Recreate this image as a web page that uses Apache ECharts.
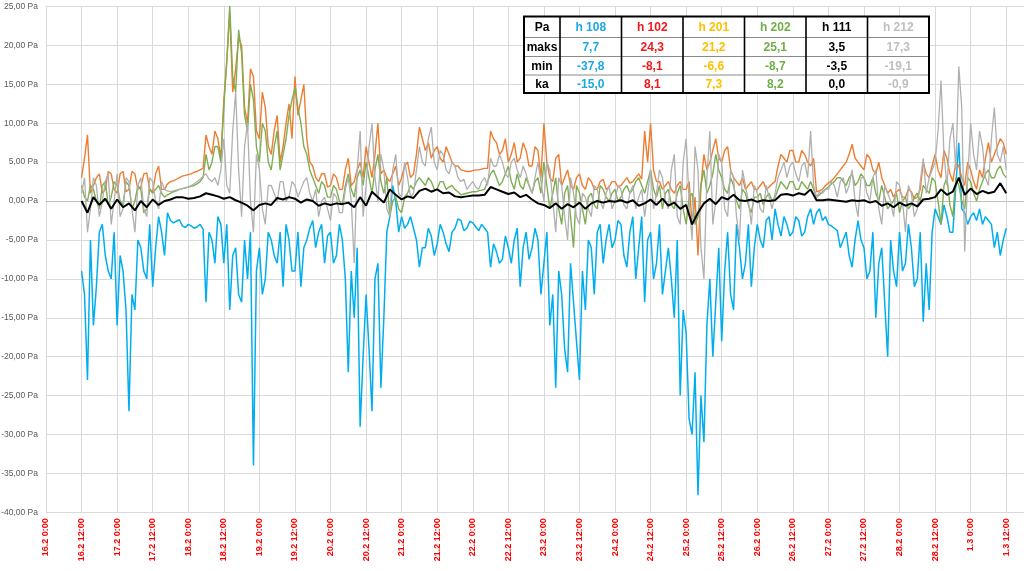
<!DOCTYPE html>
<html>
<head>
<meta charset="utf-8">
<script src="https://cdn.jsdelivr.net/npm/echarts@6/dist/echarts.min.js"></script>
<style>
html,body{margin:0;padding:0;background:#fff;}
#chart{width:1024px;height:571px;}
</style>
</head>
<body>
<div id="chart"></div>
<script>
// ---- x tick labels (every 12 h from 16.2 0:00) ----
const xTickLabels = ['16.2 0:00','16.2 12:00','17.2 0:00','17.2 12:00','18.2 0:00','18.2 12:00',
  '19.2 0:00','19.2 12:00','20.2 0:00','20.2 12:00','21.2 0:00','21.2 12:00','22.2 0:00','22.2 12:00',
  '23.2 0:00','23.2 12:00','24.2 0:00','24.2 12:00','25.2 0:00','25.2 12:00','26.2 0:00','26.2 12:00',
  '27.2 0:00','27.2 12:00','28.2 0:00','28.2 12:00','1.3 0:00','1.3 12:00'];

// sample times: hours after 16.2 0:00, every 2 h from 16.2 12:00 (even readings);
// odd-hour readings sit 1 h after each of them
const hours = [];
for (let h = 12; h <= 324; h += 2) hours.push(h);

// ---- series values (Pa) ----
// even hours (12,14,...,324)
const h108 = [
 -9,-23,-16,-4,-7,-10,  -16,-9,-27,-14,-6,-10,  -11,-2,-7,-2.5,-2.6,-3.2,  -3.0,-3.5,-3.0,-13,-5,-2,
 -8,-14,-6,-13,-10,-34,  -6,-10,-5,-8,-11,-5,  -9,-11,-5,-2.5,-4,-8,  -4,-7,-5,-22,-15,-29,
 -12,-27,-8,-15,-2,0,  -2,-3,-3.5,-8.5,-6,-4.5,  -5.5,-4,-6.5,-3.5,-2.5,-3.5,  -2.8,-3.8,-3.5,-8.5,-6.5,-7.5,
 -6,-5,-11,-4,-6,-5,  -8,-16,-24,-12,-22,-13,  -23,-14,-6,-4,-8,-3,  -5,-3,-8.5,-2,-6,-13,
 -4,-8,-12,-6,-15,-25,  -17,-30,-37.8,-31,-10,-13,  -18,-4,-14,-6,-8,-11,  -3,-6,-2,-1,-4.5,-3,
 -4,-2.5,-4,-1,-1.5,-2.5,  -3,-3.5,-6,-4,-8.5,-2.5,  -6,-9,-15,-6,-20,-9,  -4,-8,-6,-10,-15.5,-14,
 -1,-3,-2,-4,7.5,-1.5,  -2,-2.5,-3,-2.5,-6,-7,  -3.5];
// odd hours (13,15,...,323)
const h108odd = [
 -12,-5,-11,-3,-9,-4,  -7,-14,-12,-5,-9,-3,  -6,-4,-1.5,-2.8,-2.4,-3.4,  -3.2,-3.3,-3.6,-4,-8,-3,
 -3,-7,-12,-5,-4,-9,  -12,-4,-7,-4,-3,-9,  -4,-6,-3.5,-6,-3,-4.5,  -8,-3,-10,-9,-6,-20,
 -19,-10,-24,-4,2,-4,  -3.5,-2,-5,-6,-3.5,-7,  -3,-5.5,-4,-2.3,-3.8,-2.6,  -3.3,-3,-4,-5.5,-8,-4.5,
 -8,-3.5,-6,-7.5,-3.5,-12,  -4,-12,-9,-19,-8,-18,  -9,-5,-12,-3,-5,-6,  -2.5,-7,-4,-10,-2,-5,
 -10,-3,-9,-10,-5,-14,  -28,-22,-25,-16,-20,-6,  -9,-12,-3,-10,-3,-6,  -5,-2.5,-5,-3,-2,-4.5,
 -2,-4.5,-2,-3,-1,-2,  -3.2,-3.8,-5,-7,-5,-5,  -10,-4,-8,-13,-5,-11,  -9,-3,-11,-4,-8,-4,
 -2,-0.5,-4,2,-1,-3,  -1.5,-1,-2,-3,-4,-5];

const h102 = [
 3,8.5,2,3.5,1.5,3.5,  1,3.8,1.5,3.5,1.8,3.6,  1.2,4.5,1.5,2.5,2.8,3.2,  3.4,3.7,4,8.5,6,8,
 13,24.3,17,20,10,16,  8,12,6,11,7,12.5,  16,13,8,4.5,2.5,3.5,  2,3,1.5,5.5,2.5,5,
 7,3,10,4,2.5,4.5,  3,5,3.5,9.5,6.5,5.5,  7,5,6,4.5,4,3.8,  3.9,4,4.2,9,7.5,6.5,
 5,7.5,5.5,6.5,4.5,6.5,  10,3,5.5,2,4,1.5,  3.5,1.5,2.5,1.5,2.8,1.8,  2.5,2,3,2.5,3.5,9,
 10,2.5,1.5,2.5,1,2.5,  1.5,-3,-7,6,5,8,  5,7,3,2,1.5,2.5,  1.5,2.5,1.8,2.5,6,5,
 6.5,5,6,4.5,1.2,1.5,  2.3,3,4,5,7.3,5,  4,5.5,3.5,3,1,0.5,  1.5,0.5,1.2,0.5,5,3,
 6,3,5.5,2.5,4.5,2,  4,1.5,3,7.5,6,8,  6];
const h102odd = [
 5.5,1,3,1,3.8,1.5,  3.5,1.2,3.8,1.5,3.5,1.5,  3.5,1.5,2.2,2.6,3,3.3,  3.5,3.8,4.2,7,9,5.5,
 18,14,21,12,17,9,  14,7,9,5,10,8,  11,15,5,3,3.5,1.8,  3.5,1.5,4,2,4,3,
 5,6,3.5,3,3.5,2,  4.5,3,6,8,7.5,6.5,  5.5,7,5,4.5,3.9,3.8,  4,4.1,4.2,8,6,8,
 6,5,7.5,4.5,7,3,  5,2.5,6,3,2,3,  2,3,1.5,2.5,1.5,2.5,  1.8,2.5,2.3,3,2.8,5,
 4,2.5,2,1.5,2,1.5,  2.5,0.5,2,4,6.5,5.5,  6.5,4,2.5,3,2,1.5,  2,1.5,2.2,4.5,5.5,6.5,
 5,6.5,5,5.5,1.3,2,  2.6,3.5,4.5,6,5.5,4.5,  6,4,5,2,1.5,1.2,  0.5,1.5,0.3,1.5,3.5,4.5,
 4,6.5,3.5,5,3,5,  2.5,4,5.5,5,7,7.5];

const h202 = [
 2,0,1.5,-1,2.5,0.5,  2,-0.5,2,0,1.5,-1,  1,2,0.5,1,1.3,1.6,  1.8,2.0,2.5,6,5,7,
 12,25.1,14,19,9,13,  5,9,4,9,6,11,  14.5,10,6,3,1,2,  0.5,1.5,-0.5,3.5,0.5,4,
 5,1,6,1,-2,0.5,  -1.5,1,1.5,3,2,2.5,  1.5,2.5,1.8,1.5,0.8,1.0,  1.2,1.3,1.5,3.5,3,2.5,
 4.5,1.5,2,3,1,3,  5,-1,3,-3,2,-6,  1,-3,1,-1,1.5,0,  1.5,0.5,2,1.5,3,1,
 4,0.5,-1,1.5,-1,2,  -3,1,-2,4,2,6,  3,1,2,-1,1,-1.5,  0.5,-0.5,1,0.5,2.5,1.5,
 2.5,1.5,2,2.5,0.5,1.2,  1.8,2.5,3,2,3.5,2.5,  3,2,1,2,-1,0,  -1.5,0.5,-0.5,1,2,1,
 2.5,-3,3,-2,2,-1,  2.5,0,2.5,4,3,4.5,  3];
const h202odd = [
 0.5,2,0,2,-0.5,2.5,  0,2.5,-1,2,-1.5,1.5,  1.5,1,0.8,1.2,1.5,1.7,  1.9,2.2,3,4,7,5,
 18,16,22,11,15,7,  10,5,7,4,8,13,  12,7,4,2,2.5,0.5,  2,0,2,1.5,3,2,
 3,4,2.5,3,0,-1,  0.5,2,2.5,2.5,3,1.5,  2.5,1.5,2,1.2,0.9,1.1,  1.2,1.4,2.5,4,2,3.5,
 2.5,3.5,1.5,2,2.5,1,  2,1,-1,1,-2,2,  -1,0.5,-0.5,2,0.5,1,  0,1.5,1,2.5,2,2.5,
 1.5,2,1,-0.5,1,-1,  0.5,-3,2,1,3.5,4,  1.5,3,0,1.5,-0.5,0.5,  1,0.5,0,1.5,2,2.5,
 1.5,2.5,1.5,1.5,0.8,1.5,  2.2,3,2.5,3,2,3.5,  2,3,0,0.5,-0.5,1,  0,-1,0.5,0,1.5,3,
 0,2,-0.5,3,0,3,  1,1.5,3.5,3,4,3.5];

const h212 = [
 1,-4,3,-2,2.5,-3,  3.5,-1,2.5,-4,3,-2,  2.5,-1,1.5,1.2,1.4,1.6,  1.8,2.2,2.8,3.5,2.5,2,
 8,1,14,-2,10,-4,  4,-3,2,0,2.5,0.5,  2,1.5,3,0,-2,0.5,  -2.5,0.5,-1.5,3,-8,9,
 2,10,0,4,-2,6,  0.5,3,1,7,4.5,9.5,  4,6,3.5,4.5,2.5,1.5,  2.5,1.5,3,5.5,4.5,5,
 3,5.5,3,3.5,1,5,  0,4,-4,2,-5,1,  -3,0.5,-2,1.5,-1,2,  0,1.5,-1,2,0.5,-2,
 4,1,3,-1,6,-3,  8,-5,4,-10,9,0,  5,-2,3,-5,2,-3,  1,-1.5,0.5,1,4,3,
 5,2.5,5,9,0.5,1,  1.5,2,2.5,1,4,-2,  3,0,4,-3,1,-2,  2,-4,1,-1,5.5,3,
 5,15.5,2,10,17.3,-6.5,  10,4,7,2,12,5,  4];
const h212odd = [
 3,-1,2,0,3.5,0,  -2,3,-1,2,-1,3,  0,2.5,1.3,1.3,1.5,1.7,  2,2.5,3.2,2.8,3,4,
 2,9,4,7,0,6,  -1,2,1,2.5,0,2.5,  0.5,2.5,1,1.5,0,-1,  1,-1.5,1.5,0,4,-2,
 7,3,6,-1,4,1,  5,0.5,4,5,8,5,  6.5,4,5,3,2.8,2,  1.8,2.5,2,4.5,6,3.5,
 5,4,4.5,2,3,2.5,  5,0,3,-2,3,-2,  1,-1,2,0,1,-1,  2,-0.5,1,-1,1.5,1,
 -1,4,0,4,-2,5,  0,7,-6,3,-3,6,  -1,4,-2,4,0,2,  -1,2,-1,3,5,4.5,
 3.5,4.5,3,2,1.2,1.5,  2.5,0.5,3,2,0,3,  1,3,-1,2,0,2.5,  0,2,-2,2.5,1,4,
 9,6,8,4,12,3,  6,9,3,8,6,7];

const h111 = [
 0,-1.5,0.5,-0.5,0.3,-1,  0.2,-0.8,-0.3,-1.2,0,-0.8,  0.2,-0.5,0,0.2,0.5,0.5,  0.3,0.4,0.6,1.0,0.8,0.6,
 0.3,0.5,0.1,-0.2,-0.6,-1.2,  -0.5,-0.3,-0.5,0.4,0.2,0.5,  0.3,-0.2,0.2,0,-0.6,-0.3,  -0.5,-0.3,-0.4,-0.2,-0.8,0.5,
 -0.6,1.2,0.5,-0.2,1.5,0.8,  0.2,0.6,0.4,1.3,1.6,1.2,  1.5,1.0,1.1,0.6,0.5,0.6,  0.7,0.7,0.8,1.8,1.5,1.2,
 0.9,1.1,0.5,0.8,0.2,-0.3,  -0.5,-0.9,-0.3,-1.0,-0.4,-0.8,  -0.2,-1.0,-0.3,0,-0.2,0,  -0.1,0.1,-0.2,0.1,-0.6,-0.3,
 0.2,-0.5,0.3,-0.6,-0.2,-1.0,  -0.5,-3.0,-1.5,-0.3,0.3,-0.4,  0.5,0.2,0.8,0.1,0,0.2,  -0.1,0.1,0,0.1,0.8,0.9,
 0.7,1.0,0.8,1.5,0.1,0.1,  0.2,0.1,0,-0.1,0.1,0,  0.1,-0.2,0,-0.6,-0.3,-0.8,  -0.2,-0.6,-0.3,-0.7,0.2,0.3,
 0.5,1.5,0.8,1.2,3.0,0.8,  1.6,0.9,1.3,1.0,1.2,2.3,  1.0];

// ---- table ----
const tableHeader = ['Pa','h 108','h 102','h 201','h 202','h 111','h 212'];
const rowNames = ['maks','min','ka'];
const maksVals = ['7,7','24,3','21,2','25,1','3,5','17,3'];
const minVals  = ['-37,8','-8,1','-6,6','-8,7','-3,5','-19,1'];
const kaVals   = ['-15,0','8,1','7,3','8,2','0,0','-0,9'];

const textColors = ['#1CA8E3','#F01818','#FFC000','#70AD47','#000000','#BFBFBF'];
const lineColors = {h108:'#00AEEF', h102:'#ED7D31', h202:'#7FAE52', h111:'#000000', h212:'#B0B0B0'};

function pairs(even, odd){
  const out = [];
  hours.forEach((h,i)=>{
    out.push([h, even[i]]);
    if (odd && i < odd.length) out.push([h+1, odd[i]]);
  });
  return out;
}

function buildTable(){
  const x0 = 524, y0 = 16.5;
  const colW = [36, 61.5, 61.5, 61.5, 61.5, 61.5, 61.5];
  const rowH = [21, 19, 18.5, 18];
  const W = colW.reduce((a,b)=>a+b,0), H = rowH.reduce((a,b)=>a+b,0);
  const els = [];
  els.push({type:'rect', shape:{x:x0,y:y0,width:W,height:H}, style:{fill:'#fff',stroke:null}, z:100});
  const rows = [tableHeader, [rowNames[0]].concat(maksVals), [rowNames[1]].concat(minVals), [rowNames[2]].concat(kaVals)];
  let yy = y0;
  for (let r=0;r<rows.length;r++){
    let xx = x0;
    for (let c=0;c<rows[r].length;c++){
      els.push({type:'text', z:102, style:{
        text: rows[r][c], x: xx + colW[c]/2, y: yy + rowH[r]/2 + 0.5,
        textAlign:'center', textVerticalAlign:'middle',
        font: 'bold 12px "Liberation Sans", Arial, sans-serif',
        fill: c===0 ? '#000' : textColors[c-1]
      }});
      xx += colW[c];
    }
    yy += rowH[r];
    if (r < rows.length-1){
      els.push({type:'line', z:101, shape:{x1:x0,y1:yy,x2:x0+W,y2:yy}, style:{stroke:'#8a8a8a',lineWidth:1}});
    }
  }
  let xx = x0;
  for (let c=0;c<colW.length-1;c++){
    xx += colW[c];
    els.push({type:'line', z:101, shape:{x1:xx,y1:y0,x2:xx,y2:y0+H}, style:{stroke:'#000',lineWidth:1.6}});
  }
  els.push({type:'rect', z:103, shape:{x:x0,y:y0,width:W,height:H}, style:{fill:null,stroke:'#000',lineWidth:2}});
  return els;
}

const chart = echarts.init(document.getElementById('chart'), null, {renderer:'canvas'});
const lineSeries = (name, data, color, width, z) => ({
  name, type:'line', data, showSymbol:false, symbol:'none',
  lineStyle:{color, width}, itemStyle:{color}, z, animation:false
});

chart.setOption({
  animation:false,
  backgroundColor:'#ffffff',
  grid:{left:46, right:0, top:6.5, bottom:58.7, containLabel:false, outerBoundsMode:'none'},
  xAxis:{
    type:'value', min:0, max:330, interval:12,
    axisLine:{show:true, lineStyle:{color:'#BFBFBF', width:1}},
    axisTick:{show:false},
    splitLine:{show:true, lineStyle:{color:'#D9D9D9', width:1}},
    axisLabel:{
      rotate:90, margin:6, color:'#FF0000', fontWeight:'bold', fontSize:9,
      fontFamily:'"Liberation Sans", Arial, sans-serif',
      showMaxLabel:false,
      formatter:(v)=>{ const i = Math.round(v/12); return (v%12===0 && i < xTickLabels.length) ? xTickLabels[i] : ''; }
    }
  },
  yAxis:{
    type:'value', min:-40, max:25, interval:5,
    axisLine:{show:true, lineStyle:{color:'#D9D9D9', width:1}},
    axisTick:{show:false},
    splitLine:{show:true, lineStyle:{color:'#D9D9D9', width:1}},
    axisLabel:{
      margin:8, color:'#595959', fontSize:8.5,
      fontFamily:'"Liberation Sans", Arial, sans-serif',
      formatter:(v)=> v.toFixed(2).replace('.', ',') + ' Pa'
    }
  },
  series:[
    lineSeries('h 108', pairs(h108, h108odd), lineColors.h108, 1.5, 2),
    lineSeries('h 102', pairs(h102, h102odd), lineColors.h102, 1.4, 3),
    lineSeries('h 202', pairs(h202, h202odd), lineColors.h202, 1.4, 4),
    lineSeries('h 212', pairs(h212, h212odd), lineColors.h212, 1.3, 5),
    lineSeries('h 111', pairs(h111), lineColors.h111, 2, 6)
  ],
  graphic: buildTable()
});
</script>
</body>
</html>
